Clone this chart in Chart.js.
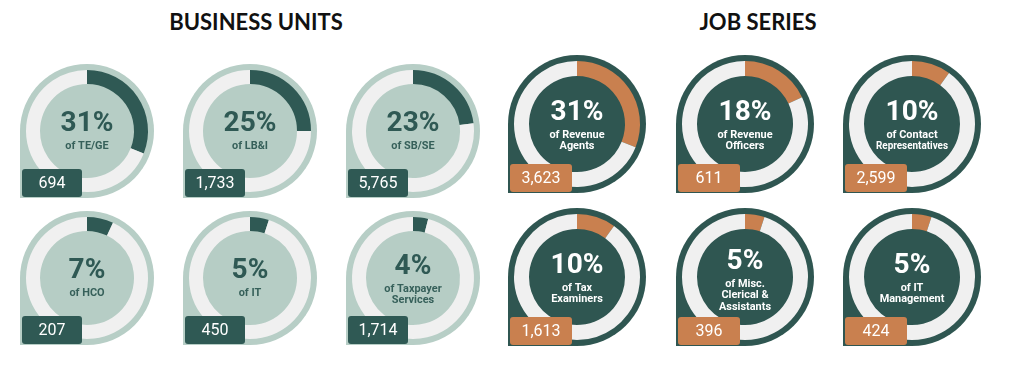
<!DOCTYPE html>
<html><head><meta charset="utf-8">
<script src="https://cdn.jsdelivr.net/npm/chart.js@4.4.0/dist/chart.umd.min.js"></script>
<style>
html,body{margin:0;padding:0;background:#fff;width:1022px;height:371px;overflow:hidden;}
#wrap{position:relative;width:1022px;height:371px;}
.title{position:absolute;top:10px;height:24px;line-height:24px;font-family:Lato,'Open Sans',sans-serif;font-weight:700;font-size:22px;color:#111;text-align:center;white-space:nowrap;}
canvas{position:absolute;}
</style></head><body><div id="wrap">
<div class="title" style="left:126px;width:260px">BUSINESS UNITS</div>
<div class="title" style="left:628px;width:260px">JOB SERIES</div>
</div>
<script>
// ---- data ----
const buCategories = ["TE/GE", "LB&I", "SB/SE", "HCO", "IT", "Taxpayer Services"];
const buLabelLines = [["of TE/GE"], ["of LB&I"], ["of SB/SE"], ["of HCO"], ["of IT"], ["of Taxpayer", "Services"]];
const buPercents = [31, 25, 23, 7, 5, 4];
const buCounts = [694, 1733, 5765, 207, 450, 1714];

const jsCategories = ["Revenue Agents", "Revenue Officers", "Contact Representatives", "Tax Examiners", "Misc. Clerical & Assistants", "IT Management"];
const jsLabelLines = [["of Revenue", "Agents"], ["of Revenue", "Officers"], ["of Contact", "Representatives"], ["of Tax", "Examiners"], ["of Misc.", "Clerical &", "Assistants"], ["of IT", "Management"]];
const jsPercents = [31, 18, 10, 10, 5, 5];
const jsCounts = [3623, 611, 2599, 1613, 396, 424];

// ---- layout / styles ----
const themes = {
  bu: {outer: "#b7cec6", inner: "#b6cdc5", ring: "#f0f0f0", arc: "#2f5954", box: "#2f5954",
       pctColor: "#2f5954", subColor: "#36605a", R: 67, ro: 61, ri: 47, boxW: 60,
       xs: [87, 250, 413], ys: [131, 278]},
  js: {outer: "#2f5651", inner: "#2f5651", ring: "#f0f0f0", arc: "#c9804f", box: "#c9804f",
       pctColor: "#ffffff", subColor: "#ffffff", R: 69, ro: 63, ri: 48, boxW: 62,
       xs: [577, 745, 912], ys: [124, 277]}
};

const tilePlugin = {
  id: "tile",
  beforeDatasetsDraw(chart) {
    const t = chart.options.plugins.tile;
    const a = chart.getDatasetMeta(0).data[0];
    const ctx = chart.ctx, x = a.x, y = a.y, R = t.theme.R;
    ctx.save();
    ctx.fillStyle = t.theme.outer;
    ctx.beginPath();
    ctx.moveTo(x - R, y);
    ctx.arc(x, y, R, Math.PI, Math.PI * 2.5, false);
    ctx.lineTo(x - R, y + R);
    ctx.closePath();
    ctx.fill();
    ctx.fillStyle = t.theme.inner;
    ctx.beginPath();
    ctx.arc(x, y, t.theme.ri + 0.5, 0, Math.PI * 2);
    ctx.fill();
    ctx.restore();
  },
  afterDraw(chart) {
    const t = chart.options.plugins.tile;
    const th = t.theme;
    const a = chart.getDatasetMeta(0).data[0];
    const ctx = chart.ctx, x = a.x, y = a.y, R = th.R;
    const n = t.lines.length;
    ctx.save();
    ctx.textAlign = "center";
    ctx.textBaseline = "middle";
    const pctY = y - 7 - (n - 1) * 4;
    ctx.fillStyle = th.pctColor;
    ctx.font = "bold 28px Roboto, 'Liberation Sans', sans-serif";
    ctx.fillText(t.pct + "%", x, pctY);
    ctx.fillStyle = th.subColor;
    ctx.font = "bold 11.5px Roboto, 'Liberation Sans', sans-serif";
    t.lines.forEach((ln, i) => {
      ctx.save();
      ctx.translate(x, pctY + 22 + i * 11.5);
      ctx.scale(ln.length > 12 ? 0.86 : 0.95, 1);
      ctx.fillText(ln, 0, 0);
      ctx.restore();
    });
    // count box
    const bx = x - R + 2, bw = th.boxW, bh = 28, by = y + R - 29;
    ctx.fillStyle = th.box;
    ctx.beginPath();
    ctx.roundRect(bx, by, bw, bh, 3);
    ctx.fill();
    ctx.fillStyle = "#ffffff";
    ctx.font = "16px Roboto, 'Liberation Sans', sans-serif";
    ctx.fillText(t.count.toLocaleString("en-US"), bx + bw / 2, by + bh / 2 + 1);
    ctx.restore();
  }
};

function makeTile(cx, cy, category, pct, count, lines, theme) {
  const S = 150;
  const c = document.createElement("canvas");
  c.width = S; c.height = S;
  c.style.width = S + "px"; c.style.height = S + "px";
  c.style.left = (cx - S / 2) + "px"; c.style.top = (cy - S / 2) + "px";
  document.getElementById("wrap").appendChild(c);
  new Chart(c, {
    type: "doughnut",
    data: {
      labels: [category, "Other"],
      datasets: [{data: [pct, 100 - pct], backgroundColor: [theme.arc, theme.ring], borderWidth: 0, hoverOffset: 0}]
    },
    options: {
      responsive: false, animation: false, events: [],
      radius: theme.ro, cutout: (theme.ri / theme.ro * 100) + "%",
      layout: {padding: 0},
      plugins: {legend: {display: false}, tooltip: {enabled: false},
                tile: {theme: theme, pct: pct, count: count, lines: lines}}
    },
    plugins: [tilePlugin]
  });
}

function build(categories, lines, pcts, counts, theme) {
  categories.forEach((cat, i) => {
    const col = i % 3, row = Math.floor(i / 3);
    makeTile(theme.xs[col], theme.ys[row], cat, pcts[i], counts[i], lines[i], theme);
  });
}
build(buCategories, buLabelLines, buPercents, buCounts, themes.bu);
build(jsCategories, jsLabelLines, jsPercents, jsCounts, themes.js);
</script>
</body></html>
